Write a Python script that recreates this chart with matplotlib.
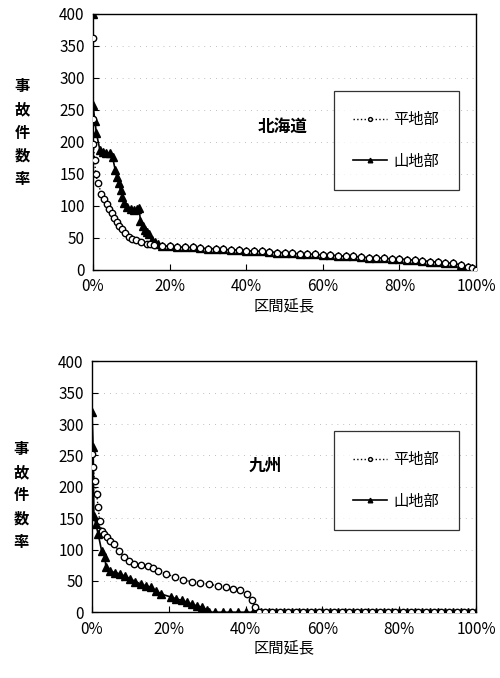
import matplotlib
matplotlib.use("Agg")
import matplotlib.pyplot as plt
from matplotlib.ticker import FuncFormatter

plt.rcParams['font.family'] = ['Liberation Sans Narrow', 'Noto Sans CJK JP', 'DejaVu Sans']

JP = ['Noto Sans CJK JP', 'DejaVu Sans']

# 北海道 (Hokkaido) -- steep head of each curve
hk_flat_head_pct = [0, 0, 0.1, 0.4, 0.7, 1.3, 2.2, 3.0, 3.6, 4.3, 4.9, 5.5, 6.2, 6.9, 7.6,
                    8.4, 9.3, 10.2, 11.1, 12.6, 14.2, 15, 16]
hk_flat_head_rate = [362, 236, 197, 171, 150, 135, 119, 111, 103, 95, 88, 81, 75, 69, 64,
                     57, 51, 48, 46, 43, 41, 40, 38]
hk_mtn_head_pct = [0, 0, 0.5, 0.9, 1.8, 2.7, 3.5, 4.4, 5.1, 5.8, 6.2, 6.7, 7.2, 7.6, 8.2,
                   8.9, 9.8, 10.7, 11.4, 12, 12.4, 13, 13.5, 14.1, 14.7, 15.3, 16.1, 16.9]
hk_mtn_head_rate = [400, 257, 232, 213, 187, 184, 183, 182, 176, 156, 145, 135, 124, 114, 104,
                    98, 95, 94, 95, 96, 77, 69, 62, 59, 56, 46, 43, 41]

# long shared tail of both Hokkaido curves
hk_tail_pct = [18, 20, 22, 24, 26, 28, 30, 32, 34, 36, 38, 40, 42, 44, 46, 48, 50,
               52, 54, 56, 58, 60, 62, 64, 66, 68, 70, 72, 74, 76, 78, 80, 82, 84,
               86, 88, 90, 92, 94, 96, 98, 99, 100]
hk_tail_rate = [37, 37, 36, 35, 35, 34, 33, 33, 32, 31, 31, 30, 29, 29, 28, 27, 27,
                26, 25, 25, 24, 23, 23, 22, 21, 21, 20, 19, 19, 18, 17, 17, 16, 15,
                14, 13, 12, 11, 10, 8, 5, 3, 0]

# 九州 (Kyushu)
ky_flat_head_pct = [0, 0.27, 0.7, 1.2, 1.6, 2.0, 2.5, 3.1, 3.8, 4.7, 5.6, 7.0, 8.3, 9.6,
                    10.9, 12.7, 14.5, 15.8, 17.2, 19.4, 21.6, 23.8, 26, 28.2, 30.5, 32.7,
                    34.9, 36.7, 38.5, 40.3, 41.6, 42.5, 43.4]
ky_flat_head_rate = [252, 231, 210, 189, 167, 146, 130, 125, 120, 114, 109, 98, 88, 82,
                     77, 75, 74, 70, 66, 61, 56, 52, 48, 46, 45, 42,
                     40, 37, 35, 29, 19, 8, 0]
ky_mtn_head_pct = [0, 0.3, 0.5, 1.0, 1.6, 2.5, 3.4, 3.6, 4.7, 6.0, 7.4, 8.7, 10, 11.3,
                   12.7, 14.0, 15.4, 16.7, 18, 20.7, 22, 23.4, 24.7, 26, 27.3, 28.7, 30, 30.5]
ky_mtn_head_rate = [320, 263, 154, 140, 125, 98, 88, 72, 66, 63, 61, 57, 53, 49,
                    45, 42, 40, 34, 29, 24, 21, 19, 16, 13, 10, 8, 3, 0]
ky_flat_zero_pct = [45, 47, 49, 51, 53, 55, 57, 59, 61, 63, 65, 67, 69, 71, 73, 75, 77,
                    79, 81, 83, 85, 87, 89, 91, 93, 95, 97, 99]
ky_mtn_zero_pct = [32, 34, 36, 38, 40, 42, 44, 46, 48, 50, 52, 54, 56, 58, 60, 62, 64,
                   66, 68, 70, 72, 74, 76, 78, 80, 82, 84, 86, 88, 90, 92, 94, 96, 98, 100]

y_ticks = [0, 50, 100, 150, 200, 250, 300, 350, 400]
x_ticks = [0, 20, 40, 60, 80, 100]

fig = plt.figure(figsize=(5.0, 6.78), dpi=100)
ax1 = fig.add_axes([0.186, 0.602, 0.766, 0.378])
ax2 = fig.add_axes([0.184, 0.097, 0.768, 0.370])


def style_axes(ax, ylab_y):
    ax.set_xlim(0, 100)
    ax.set_ylim(0, 400)
    ax.set_yticks(y_ticks)
    ax.set_xticks(x_ticks)
    ax.xaxis.set_major_formatter(FuncFormatter(lambda v, p: f"{int(v)}%"))
    ax.tick_params(direction='in', length=4, width=0.8, labelsize=11, pad=6)
    for y in y_ticks[1:-1]:
        ax.axhline(y, color='#aaaaaa', lw=0.6, ls=(0, (1, 6)), zorder=0)
    for s in ax.spines.values():
        s.set_linewidth(1.0)
    ax.set_xlabel('区間延長', family=JP, fontsize=11, labelpad=2)
    ax.text(-0.185, ylab_y, '\n'.join('事故件数率'), transform=ax.transAxes,
            family=JP, fontsize=11, fontweight='bold', ha='center', va='center',
            linespacing=1.55)


def draw(ax, fx, fy, mx, my, title, tx, ty, leg_y):
    ax.plot(fx, fy, ls=':', color='black', lw=1.0, marker='o', ms=4.6,
            mfc='white', mec='black', mew=1.0, label='平地部', zorder=3)
    ax.plot(mx, my, ls='-', color='black', lw=1.2, marker='^', ms=5.5,
            mfc='black', mec='black', label='山地部', zorder=2)
    ax.text(tx, ty, title, family=JP, fontsize=12, fontweight='bold',
            ha='center', va='center')
    leg = ax.legend(loc='center right', bbox_to_anchor=(0.975, leg_y),
                    prop={'family': JP, 'size': 11}, frameon=True, fancybox=False,
                    edgecolor='black', handlelength=2.2, labelspacing=1.6,
                    borderpad=1.3, handletextpad=0.4, markerscale=0.6)
    leg.get_frame().set_linewidth(0.9)


style_axes(ax1, 0.535)
draw(ax1,
     hk_flat_head_pct + hk_tail_pct, hk_flat_head_rate + hk_tail_rate,
     hk_mtn_head_pct + hk_tail_pct, hk_mtn_head_rate + hk_tail_rate,
     '北海道', 49.5, 223, 0.505)

style_axes(ax2, 0.466)
draw(ax2,
     ky_flat_head_pct + ky_flat_zero_pct, ky_flat_head_rate + [0] * len(ky_flat_zero_pct),
     ky_mtn_head_pct + ky_mtn_zero_pct, ky_mtn_head_rate + [0] * len(ky_mtn_zero_pct),
     '九州', 45, 234, 0.525)

fig.savefig('out.png', dpi=100)
